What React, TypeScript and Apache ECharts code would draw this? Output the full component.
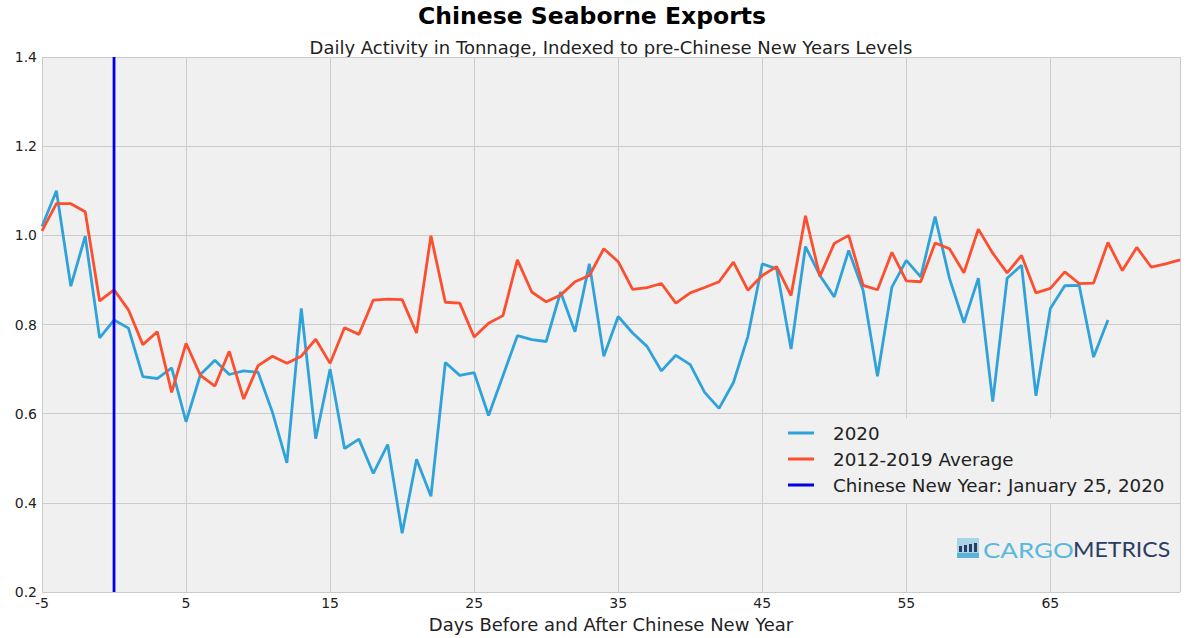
import React, { useEffect, useRef } from "react";
import * as echarts from "echarts";

const days = [
  -5, -4, -3, -2, -1, 0, 1, 2, 3, 4, 5, 6, 7, 8, 9, 10, 11, 12, 13, 14, 15, 16, 17, 18, 19, 20,
  21, 22, 23, 24, 25, 26, 27, 28, 29, 30, 31, 32, 33, 34, 35, 36, 37, 38, 39, 40, 41, 42, 43, 44,
  45, 46, 47, 48, 49, 50, 51, 52, 53, 54, 55, 56, 57, 58, 59, 60, 61, 62, 63, 64, 65, 66, 67, 68,
  69, 70, 71, 72, 73, 74,
];

const values2020 = [
  1.02, 1.1, 0.886, 0.998, 0.77, 0.81, 0.792, 0.683, 0.679, 0.703, 0.582, 0.688, 0.72, 0.688,
  0.696, 0.693, 0.603, 0.49, 0.836, 0.544, 0.7, 0.522, 0.543, 0.466, 0.531, 0.332, 0.498, 0.415,
  0.715, 0.686, 0.692, 0.596, 0.685, 0.775, 0.766, 0.762, 0.873, 0.784, 0.936, 0.729, 0.818,
  0.781, 0.751, 0.696, 0.731, 0.71, 0.648, 0.612, 0.67, 0.773, 0.936, 0.925, 0.745, 0.975, 0.91,
  0.862, 0.966, 0.877, 0.684, 0.884, 0.944, 0.907, 1.042, 0.903, 0.804, 0.904, 0.627, 0.904,
  0.933, 0.64, 0.836, 0.887, 0.888, 0.727, 0.81,
];

const valuesAvg = [
  1.01, 1.071, 1.071, 1.053, 0.853, 0.878, 0.833, 0.755, 0.784, 0.648, 0.758, 0.686, 0.662, 0.74,
  0.633, 0.708, 0.729, 0.713, 0.729, 0.767, 0.713, 0.793, 0.778, 0.855, 0.857, 0.856, 0.781,
  0.999, 0.85, 0.848, 0.772, 0.803, 0.82, 0.945, 0.873, 0.851, 0.866, 0.896, 0.91, 0.97, 0.941,
  0.879, 0.883, 0.892, 0.848, 0.871, 0.883, 0.896, 0.94, 0.877, 0.91, 0.93, 0.865, 1.044, 0.908,
  0.982, 1.0, 0.888, 0.878, 0.962, 0.898, 0.896, 0.983, 0.97, 0.916, 1.014, 0.96, 0.916, 0.955,
  0.871, 0.881, 0.918, 0.892, 0.893, 0.984, 0.921, 0.973, 0.929, 0.936, 0.945,
];

const cnyDay = 0;
const yRange = [0.2, 1.4];
const xRange = [-5, 74];

const seriesNames = ["2020", "2012-2019 Average", "Chinese New Year: January 25, 2020"];
const titleText = "Chinese Seaborne Exports";
const subtitleText = "Daily Activity in Tonnage, Indexed to pre-Chinese New Years Levels";
const xAxisName = "Days Before and After Chinese New Year";

const FONT = "DejaVu Sans";

export default function App() {
  const ref = useRef<HTMLDivElement>(null);
  useEffect(() => {
    document.body.style.margin = "0";
    const chart = echarts.init(ref.current!, null, { renderer: "svg" });
    const data2020 = values2020.map((v, i) => [days[i], v]);
    const dataAvg = valuesAvg.map((v, i) => [days[i], v]);
    chart.setOption({
      animation: false,
      backgroundColor: "#ffffff",
      textStyle: { fontFamily: FONT },
      grid: { left: 42, right: 20, top: 57, bottom: 40, show: true, backgroundColor: "#f0f0f0", borderWidth: 0 },
      xAxis: {
        type: "value",
        min: xRange[0],
        max: xRange[1],
        interval: 10,
        name: xAxisName,
        nameLocation: "middle",
        nameGap: 19,
        nameTextStyle: { fontSize: 18, color: "#222", fontFamily: FONT },
        axisLine: { show: false },
        axisTick: { show: false },
        axisLabel: {
          fontSize: 14,
          color: "#222",
          margin: 4,
          showMaxLabel: false,
          fontFamily: FONT,
        },
        splitLine: { show: true, lineStyle: { color: "#cbcbcb", width: 1 } },
      },
      yAxis: {
        type: "value",
        min: yRange[0],
        max: yRange[1],
        interval: 0.2,
        axisLine: { show: false },
        axisTick: { show: false },
        axisLabel: {
          fontSize: 14,
          color: "#222",
          margin: 5,
          fontFamily: FONT,
          formatter: (v: number) => v.toFixed(1),
        },
        splitLine: { show: true, lineStyle: { color: "#cbcbcb", width: 1 } },
      },
      legend: {
        orient: "vertical",
        left: 780,
        top: 418,
        backgroundColor: "#f0f0f0",
        padding: [5, 14, 8, 8],
        itemGap: 6,
        itemWidth: 26,
        itemHeight: 3,
        icon: "rect",
        textStyle: { fontSize: 18.3, color: "#222", fontFamily: FONT, lineHeight: 20, padding: [0, 0, 0, 14] },
        data: seriesNames,
      },
      series: [
        {
          name: seriesNames[0],
          type: "line",
          data: data2020,
          symbol: "none",
          lineStyle: { color: "#30a2da", width: 2.8 },
          itemStyle: { color: "#30a2da" },
          z: 3,
        },
        {
          name: seriesNames[1],
          type: "line",
          data: dataAvg,
          symbol: "none",
          lineStyle: { color: "#fc4f30", width: 2.8 },
          itemStyle: { color: "#fc4f30" },
          z: 4,
        },
        {
          name: seriesNames[2],
          type: "line",
          data: [
            [cnyDay, yRange[0]],
            [cnyDay, yRange[1]],
          ],
          symbol: "none",
          lineStyle: { color: "#0000e6", width: 2.8 },
          itemStyle: { color: "#0000e6" },
          z: 5,
        },
      ],
      graphic: [
        {
          type: "text",
          x: 592,
          y: 16,
          style: {
            text: titleText,
            fontSize: 23.5,
            fontWeight: "bold",
            fontFamily: FONT,
            fill: "#000",
            textAlign: "center",
            textVerticalAlign: "middle",
          },
        },
        {
          type: "text",
          x: 611,
          y: 47,
          style: {
            text: subtitleText,
            fontSize: 18,
            fontFamily: FONT,
            fill: "#222",
            textAlign: "center",
            textVerticalAlign: "middle",
          },
        },
        {
          type: "group",
          x: 957,
          y: 538,
          z: 10,
          children: [
            { type: "rect", shape: { x: 0, y: 0, width: 22, height: 20 }, style: { fill: "#a9d4e8" } },
            { type: "rect", shape: { x: 2, y: 8, width: 3, height: 6 }, style: { fill: "#2a3d66" } },
            { type: "rect", shape: { x: 7, y: 7, width: 3, height: 7 }, style: { fill: "#2a3d66" } },
            { type: "rect", shape: { x: 12, y: 6, width: 3, height: 8 }, style: { fill: "#2a3d66" } },
            { type: "rect", shape: { x: 17, y: 5, width: 3, height: 9 }, style: { fill: "#2a3d66" } },
            { type: "rect", shape: { x: 0, y: 15, width: 22, height: 5 }, style: { fill: "#5bb3d8" } },
          ],
        },
        {
          type: "text",
          x: 983,
          y: 549,
          scaleX: 1.18,
          z: 10,
          style: {
            text: "CARGO",
            fontSize: 22,
            fontFamily: "Lato",
            fill: "#5bb8dc",
            textVerticalAlign: "middle",
          },
        },
        {
          type: "text",
          x: 1073,
          y: 549,
          scaleX: 1.05,
          z: 10,
          style: {
            text: "METRICS",
            fontSize: 22,
            fontFamily: "Lato",
            fill: "#2a3d66",
            textVerticalAlign: "middle",
          },
        },
      ],
    });
    return () => chart.dispose();
  }, []);
  return <div ref={ref} style={{ width: 1200, height: 638 }} />;
}
